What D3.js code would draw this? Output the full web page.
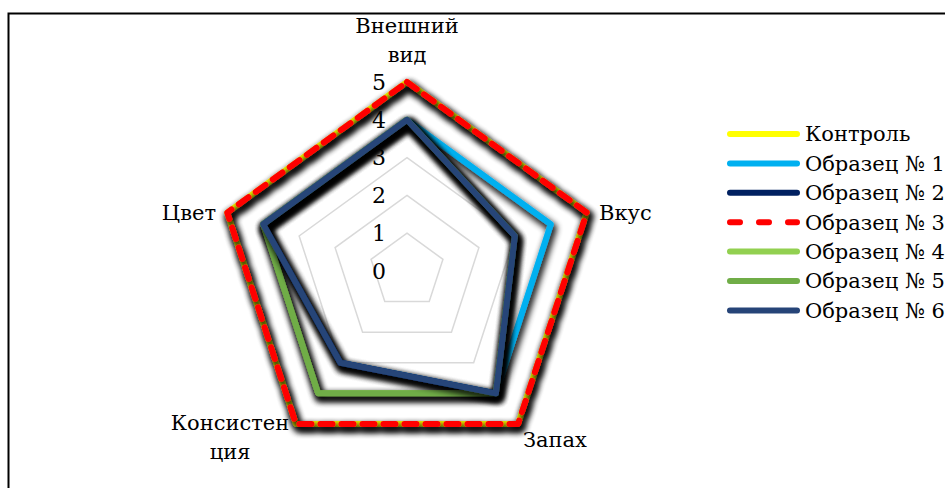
<!DOCTYPE html>
<html><head><meta charset="utf-8">
<script src="https://cdn.jsdelivr.net/npm/d3@7"></script>
<style>body{margin:0;background:#fff;}svg{display:block;}
text{font-family:"DejaVu Serif";fill:#000;}
</style>
</head><body>
<svg id="c" width="945" height="488"></svg>
<script>
const axes = ["Внешний вид", "Вкус", "Запах", "Консистенция", "Цвет"];
const ticks = [0, 1, 2, 3, 4, 5];
const seriesNames = ["Контроль", "Образец № 1", "Образец № 2", "Образец № 3", "Образец № 4", "Образец № 5", "Образец № 6"];
const kontrol = [5, 5, 5, 5, 5];
const obr1 = [4, 4, 4, 3, 4];
const obr2 = [4, 3, 4, 3, 4];
const obr3 = [5, 5, 5, 5, 5];
const obr4 = [4, 3, 4, 4, 4];
const obr5 = [4, 3, 4, 4, 4];
const obr6 = [4, 3, 4, 3, 4];
const seriesValues = [kontrol, obr1, obr2, obr3, obr4, obr5, obr6];
const colors = ["#ffff00", "#00b0f0", "#002060", "#ff0000", "#92d050", "#70ad47", "#264478"];
const dashed = [false, false, false, true, false, false, false];

const FS = 21;
const svg = d3.select("#c");
const defs = svg.append("defs");
const f = defs.append("filter").attr("id", "sh").attr("filterUnits", "userSpaceOnUse")
  .attr("x", 0).attr("y", 0).attr("width", 945).attr("height", 488);
f.append("feMorphology").attr("in", "SourceAlpha").attr("operator", "dilate").attr("radius", 1).attr("result", "d");
f.append("feGaussianBlur").attr("in", "d").attr("stdDeviation", 3).attr("result", "b");
f.append("feOffset").attr("in", "b").attr("dx", 2).attr("dy", 4).attr("result", "o");
f.append("feComponentTransfer").attr("in", "o").attr("result", "o2")
  .append("feFuncA").attr("type", "linear").attr("slope", 0.9);
const m = f.append("feMerge");
m.append("feMergeNode").attr("in", "o2");
m.append("feMergeNode").attr("in", "SourceGraphic");

// frame
svg.append("rect").attr("x", 8.5).attr("y", 13.5).attr("width", 960).attr("height", 500)
  .attr("fill", "none").attr("stroke", "#000").attr("stroke-width", 2);

const cx = 407, cy = 271;
const r = d3.scaleLinear().domain([0, 5]).range([0, 189]);
const ang = d3.scalePoint().domain(axes).range([0, 2 * Math.PI * 4 / 5]);
const pt = (a, v) => [cx + r(v) * Math.sin(ang(a)), cy - r(v) * Math.cos(ang(a))];

const g = svg.append("g");
ticks.filter(t => t > 0).forEach(t => {
  g.append("path")
    .attr("d", d3.line()(axes.map(a => pt(a, t))) + "Z")
    .attr("fill", "none").attr("stroke", "#d9d9d9").attr("stroke-width", 1.5);
});
ticks.forEach(t => {
  g.append("text").attr("x", cx - 21).attr("y", cy - r(t)).attr("dy", "0.35em")
    .attr("text-anchor", "end").attr("font-size", FS + 1).text(t);
});

const line = d3.line();
seriesValues.forEach((vals, i) => {
  const pts = axes.map((a, j) => pt(a, vals[j]));
  const p = g.append("path").attr("d", line(pts) + "Z")
    .attr("fill", "none").attr("stroke", colors[i]).attr("stroke-width", 6)
    .attr("stroke-linejoin", "round")
    .attr("filter", "url(#sh)");
  if (dashed[i]) p.attr("stroke-dasharray", "12,9").attr("stroke-linecap", "round");
});

const lab = [
  {lines: ["Внешний", "вид"], x: 407, y: 33, anchor: "middle"},
  {lines: ["Вкус"], x: 599, y: 220, anchor: "start"},
  {lines: ["Запах"], x: 523, y: 447, anchor: "start"},
  {lines: ["Консистен", "ция"], x: 230, y: 430, anchor: "middle"},
  {lines: ["Цвет"], x: 216, y: 220, anchor: "end"}
];
lab.forEach(l => {
  const t = g.append("text").attr("x", l.x).attr("y", l.y).attr("text-anchor", l.anchor)
    .attr("font-size", FS);
  l.lines.forEach((s, k) => t.append("tspan").attr("x", l.x).attr("dy", k === 0 ? 0 : 29).text(s));
});

const lg = svg.append("g");
seriesNames.forEach((n, i) => {
  const y = 134 + i * 29.4;
  const ln = lg.append("line").attr("x1", 730).attr("x2", 797).attr("y1", y).attr("y2", y)
    .attr("stroke", colors[i]).attr("stroke-width", 6).attr("stroke-linecap", "round");
  if (dashed[i]) ln.attr("stroke-dasharray", "10,19");
  lg.append("text").attr("x", 805).attr("y", y).attr("dy", "0.35em")
    .attr("font-size", FS).text(n);
});
</script>
</body></html>
